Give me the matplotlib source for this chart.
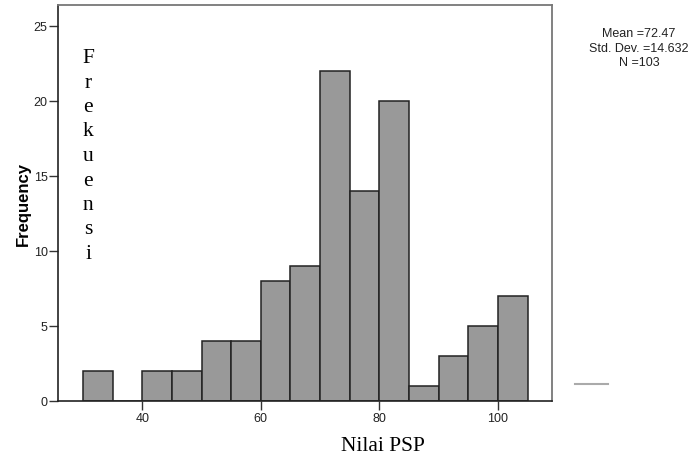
import numpy as np
import matplotlib.pyplot as plt

# histogram of Nilai PSP (bin width 5)
bin_edges = [30, 35, 40, 45, 50, 55, 60, 65, 70, 75, 80, 85, 90, 95, 100, 105]
counts = [2, 0, 2, 2, 4, 4, 8, 9, 22, 14, 20, 1, 3, 5, 7]
x_ticks = [40, 60, 80, 100]
y_ticks = [0, 5, 10, 15, 20, 25]
stats_text = "Mean =72.47\nStd. Dev. =14.632\nN =103"
side_label = "Frekuensi"

fig = plt.figure(figsize=(6.94, 4.56), dpi=100)
ax = fig.add_axes([58 / 694, 54 / 456, 494 / 694, 396 / 456])

lefts = np.array(bin_edges[:-1])
widths = np.diff(bin_edges)
ax.bar(lefts, counts, width=widths, align='edge', color='#999999',
       edgecolor='#222222', linewidth=1.1)

ax.set_xlim(25.8, 109.1)
ax.set_ylim(0, 26.4)
ax.set_xticks(x_ticks)
ax.set_yticks(y_ticks)
ax.tick_params(axis='both', labelsize=9, length=6.5, width=1, color='#333333',
               labelcolor='#222222', direction='out')
ax.tick_params(axis='y', pad=1)
ax.tick_params(axis='x', pad=1.5)
for lab in ax.get_xticklabels() + ax.get_yticklabels():
    lab.set_family('Liberation Sans')

for side in ['left', 'bottom']:
    ax.spines[side].set_color('#222222')
    ax.spines[side].set_linewidth(1.2)
for side in ['top', 'right']:
    ax.spines[side].set_color('#777777')
    ax.spines[side].set_linewidth(1.3)

ax.set_ylabel('Frequency', fontsize=12, fontweight='bold',
              family='Liberation Sans', labelpad=2)

# vertical "Frekuensi" letters inside the plot
for i, ch in enumerate(side_label):
    fig.text(88 / 694, 1 - (63 + i * 24.5) / 456, ch, fontsize=15.5,
             family='Liberation Serif', ha='center', va='baseline')

fig.text(383 / 694, 1 - 451 / 456, 'Nilai PSP', fontsize=15.5,
         family='Liberation Serif', ha='center', va='baseline')

fig.text(639 / 694, 1 - 28 / 456, stats_text, fontsize=9,
         family='Liberation Sans', ha='center', va='top',
         linespacing=1.3, color='#222222')

fig.add_artist(plt.Line2D([575 / 694, 608 / 694], [1 - 385 / 456, 1 - 385 / 456],
                          color='#aaaaaa', linewidth=1.5))

fig.savefig('out.png', dpi=100)
